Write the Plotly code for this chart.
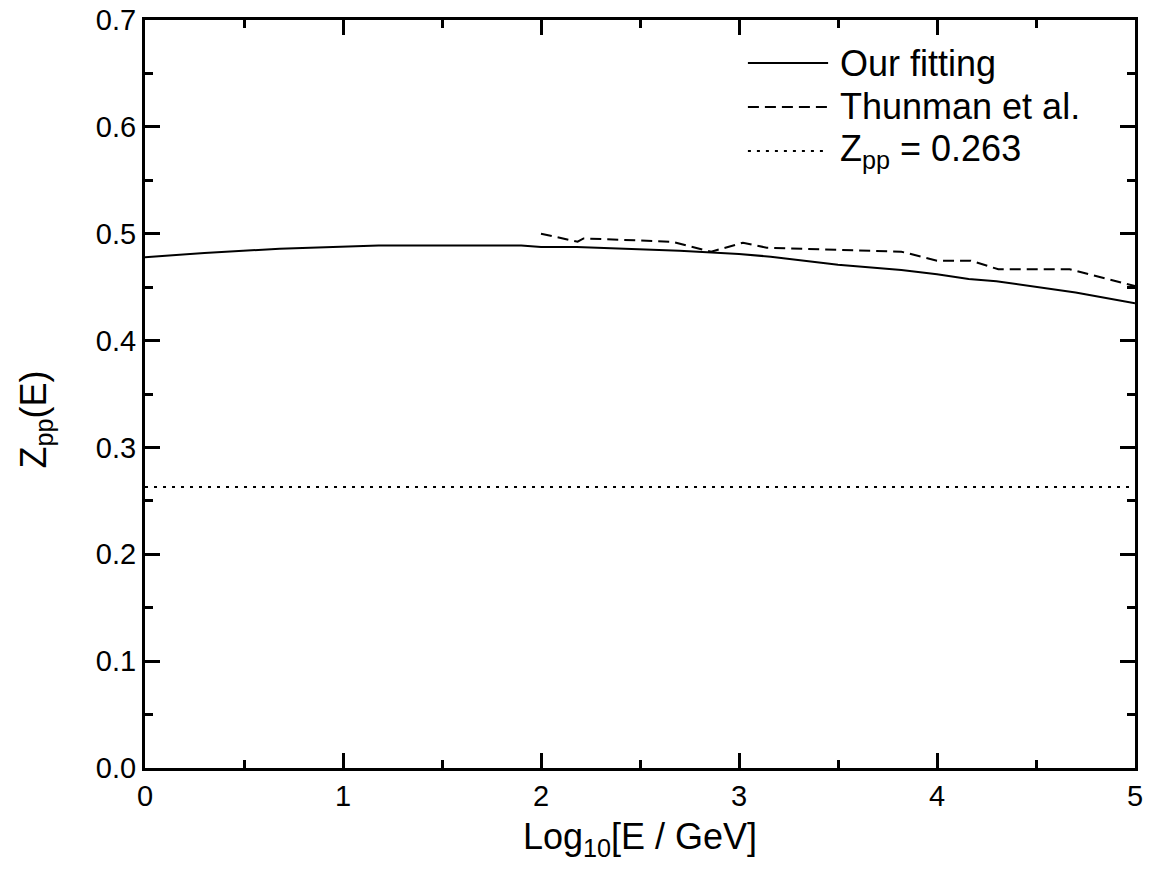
import plotly.graph_objects as go

# Data
fit_x = [0, 0.3, 0.68, 1.0, 1.18, 1.9, 2.0, 2.18, 2.7, 3.0, 3.16, 3.5, 3.82, 4.0, 4.16, 4.3, 4.7, 5.0]
fit_y = [0.478, 0.482, 0.486, 0.488, 0.489, 0.489, 0.4875, 0.4875, 0.484, 0.481, 0.4785, 0.471, 0.466, 0.462, 0.4576, 0.4555, 0.445, 0.435]

thun_x = [2.0, 2.185, 2.215, 2.66, 2.86, 3.02, 3.14, 3.82, 4.0, 4.17, 4.31, 4.67, 5.0]
thun_y = [0.500, 0.4925, 0.4956, 0.4925, 0.4832, 0.4916, 0.4869, 0.4832, 0.4748, 0.4748, 0.4667, 0.4667, 0.451]

const_x = [0, 5]
const_y = [0.263, 0.263]

legend_labels = ["Our fitting", "Thunman et al.", "Z<sub>pp</sub> = 0.263"]
x_title = "Log<sub>10</sub>[E / GeV]"
y_title = "Z<sub>pp</sub>(E)"

FONT = "Liberation Sans, Arial, sans-serif"
DASH = "11px,6px"
DOT = "3px,6px"

fig = go.Figure()
fig.add_trace(go.Scatter(x=fit_x, y=fit_y, mode="lines", line=dict(color="black", width=2), showlegend=False))
fig.add_trace(go.Scatter(x=thun_x, y=thun_y, mode="lines", line=dict(color="black", width=2, dash=DASH), showlegend=False))
fig.add_trace(go.Scatter(x=const_x, y=const_y, mode="lines", line=dict(color="black", width=2, dash=DOT), showlegend=False))

# manual legend (long line samples as in the reference)
dashes = ["solid", DASH, DOT]
rows = [0.9425, 0.8837, 0.8249]
for lab, d, ry in zip(legend_labels, dashes, rows):
    fig.add_shape(type="line", xref="paper", yref="paper", x0=0.609, x1=0.690, y0=ry, y1=ry,
                  line=dict(color="black", width=2, dash=d))
    fig.add_annotation(xref="paper", yref="paper", x=0.700, y=ry, text=lab, showarrow=False,
                       xanchor="left", yanchor="middle", font=dict(family=FONT, size=36, color="black"))

# y-axis title (placed slightly below centre, as in the reference)
fig.add_annotation(xref="paper", yref="paper", x=-0.110, y=0.466, text=y_title, showarrow=False,
                   textangle=-90, xanchor="center", yanchor="middle",
                   font=dict(family=FONT, size=36, color="black"))

axis_common = dict(showline=True, linecolor="black", linewidth=3, mirror="allticks",
                   ticks="inside", ticklen=15, tickwidth=2.5, tickcolor="black",
                   showgrid=False, zeroline=False, ticklabeloverflow="allow", automargin=False,
                   tickfont=dict(family=FONT, size=29, color="black"))

fig.update_xaxes(range=[0, 5], dtick=1, tick0=0,
                 minor=dict(ticks="inside", ticklen=8, tickwidth=2.5, tickcolor="black", dtick=0.5, showgrid=False),
                 title=dict(text=x_title, font=dict(family=FONT, size=36, color="black"), standoff=14),
                 **axis_common)
fig.update_yaxes(range=[0, 0.7], dtick=0.1, tick0=0, tickformat=".1f",
                 minor=dict(ticks="inside", ticklen=8, tickwidth=2.5, tickcolor="black", dtick=0.05, showgrid=False),
                 **axis_common)

fig.update_layout(width=1151, height=879, plot_bgcolor="white", paper_bgcolor="white",
                  margin=dict(l=145, r=16, t=20, b=111), showlegend=False)

# remove the default page margin so the figure fills the window exactly
fig.write_html("out.html", config={"displayModeBar": False},
               post_script="document.body.style.margin='0';")
